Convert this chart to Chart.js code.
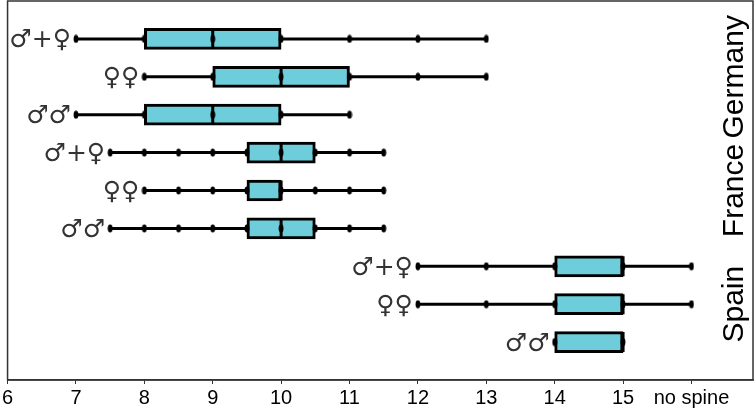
<!DOCTYPE html>
<html>
<head>
<meta charset="utf-8">
<script src="https://cdn.jsdelivr.net/npm/chart.js@4.4.1/dist/chart.umd.min.js"></script>
<style>
  html, body { margin: 0; padding: 0; background: #fff; overflow: hidden; }
  #wrap { width: 756px; height: 410px; }
</style>
</head>
<body>
<div id="wrap"><canvas id="boxChart" width="756" height="410"></canvas></div>
<script>
// rows top to bottom: Germany, France, Spain (3 groups each)
var rowLabels = ["♂+♀", "♀♀", "♂♂", "♂+♀", "♀♀", "♂♂", "♂+♀", "♀♀", "♂♂"];
var countries = ["Germany", "France", "Spain"];
var whiskerLow  = [7, 8, 7, 7.5, 8, 7.5, 12, 12, 14];
var quart1      = [8, 9, 8, 9.5, 9.5, 9.5, 14, 14, 14];
var medians     = [9, 10, 9, 10, 10, 10, 15, 15, 15];
var quart3      = [10, 11, 10, 10.5, 10, 10.5, 15, 15, 15];
var whiskerHigh = [13, 13, 11, 11.5, 11.5, 11.5, 16, 16, 15];
var observed = [
    [7, 8, 9, 10, 11, 12, 13],
    [8, 9, 10, 11, 12, 13],
    [7, 8, 9, 10, 11],
    [7.5, 8, 8.5, 9, 9.5, 10, 10.5, 11, 11.5],
    [8, 8.5, 9, 9.5, 10, 10.5, 11, 11.5],
    [7.5, 8, 8.5, 9, 9.5, 10, 10.5, 11, 11.5],
    [12, 13, 14, 15, 16],
    [12, 13, 14, 15, 16],
    [14, 15]
];
var xTicks = [6, 7, 8, 9, 10, 11, 12, 13, 14, 15, 16];
var xTickLabels = ["6", "7", "8", "9", "10", "11", "12", "13", "14", "15", "no spine"];

document.addEventListener("DOMContentLoaded", function () {
    // small vertical ellipse used for the single observations
    var dot = document.createElement("canvas");
    dot.width = 6; dot.height = 9;
    var dc = dot.getContext("2d");
    dc.fillStyle = "#000";
    dc.beginPath();
    dc.ellipse(3, 4.5, 2.4, 4, 0, 0, Math.PI * 2);
    dc.fill();

    var datasets = [];

    // whiskers
    rowLabels.forEach(function (lab, i) {
        datasets.push({
            type: "line",
            data: [{ x: whiskerLow[i], y: i + 1 }, { x: whiskerHigh[i], y: i + 1 }],
            borderColor: "#000",
            borderWidth: 3,
            pointRadius: 0,
            order: 5
        });
    });

    // boxes
    datasets.push({
        type: "bar",
        indexAxis: "y",
        data: rowLabels.map(function (lab, i) {
            return { y: i + 1, x: [quart1[i], quart3[i]] };
        }),
        backgroundColor: "#6dcdda",
        borderColor: "#000",
        borderWidth: 3,
        borderSkipped: false,
        barThickness: 21,
        order: 4
    });

    // medians
    datasets.push({
        type: "scatter",
        data: medians.map(function (m, i) { return { x: m, y: i + 1 }; }),
        pointStyle: "line",
        rotation: 90,
        radius: 10,
        borderColor: "#000",
        borderWidth: 3,
        order: 3
    });

    // observations
    var pts = [];
    observed.forEach(function (vals, i) {
        vals.forEach(function (v) { pts.push({ x: v, y: i + 1 }); });
    });
    datasets.push({
        type: "scatter",
        data: pts,
        pointStyle: dot,
        order: 2
    });

    var labelPlugin = {
        id: "rowLabels",
        afterDatasetsDraw: function (chart) {
            var ctx = chart.ctx, xs = chart.scales.x, ys = chart.scales.y, a = chart.chartArea;
            ctx.save();
            ctx.fillStyle = "#333";
            ctx.font = "25px 'DejaVu Sans'";
            ctx.textAlign = "right";
            ctx.textBaseline = "middle";
            rowLabels.forEach(function (lab, i) {
                var start = Math.min(whiskerLow[i], quart1[i]);
                ctx.fillText(lab, xs.getPixelForValue(start) - 5, ys.getPixelForValue(i + 1) + 2);
            });
            ctx.font = "30px 'Liberation Sans'";
            ctx.fillStyle = "#000";
            ctx.textAlign = "center";
            ctx.textBaseline = "alphabetic";
            countries.forEach(function (c, g) {
                var yc = ys.getPixelForValue(g * 3 + 2);
                ctx.save();
                ctx.translate(a.right - 10, yc);
                ctx.rotate(-Math.PI / 2);
                ctx.fillText(c, 0, 0);
                ctx.restore();
            });
            ctx.strokeStyle = "#333";
            ctx.lineWidth = 1.5;
            ctx.strokeRect(a.left, a.top, a.right - a.left, a.bottom - a.top);
            ctx.restore();
        }
    };

    new Chart(document.getElementById("boxChart").getContext("2d"), {
        type: "scatter",
        data: { datasets: datasets },
        options: {
            responsive: false,
            animation: false,
            layout: { autoPadding: false, padding: { left: 6, right: 3, top: 1, bottom: 0 } },
            plugins: { legend: { display: false }, tooltip: { enabled: false } },
            scales: {
                x: {
                    type: "linear",
                    min: 6,
                    max: 16.9,
                    afterBuildTicks: function (scale) {
                        scale.ticks = xTicks.map(function (v) { return { value: v }; });
                    },
                    afterFit: function (scale) {
                        scale.height = 30;
                    },
                    ticks: {
                        autoSkip: false,
                        maxRotation: 0,
                        color: "#000",
                        font: { family: "Liberation Sans", size: 20 },
                        padding: 2,
                        callback: function (v) {
                            var k = xTicks.indexOf(v);
                            return k >= 0 ? xTickLabels[k] : "";
                        }
                    },
                    grid: { drawOnChartArea: false, tickLength: 4, color: "#333" },
                    border: { color: "#333", width: 1.5 }
                },
                y: {
                    type: "linear",
                    min: 0,
                    max: 10,
                    reverse: true,
                    offset: false,
                    display: false
                }
            }
        },
        plugins: [labelPlugin]
    });
});
</script>
</body>
</html>
